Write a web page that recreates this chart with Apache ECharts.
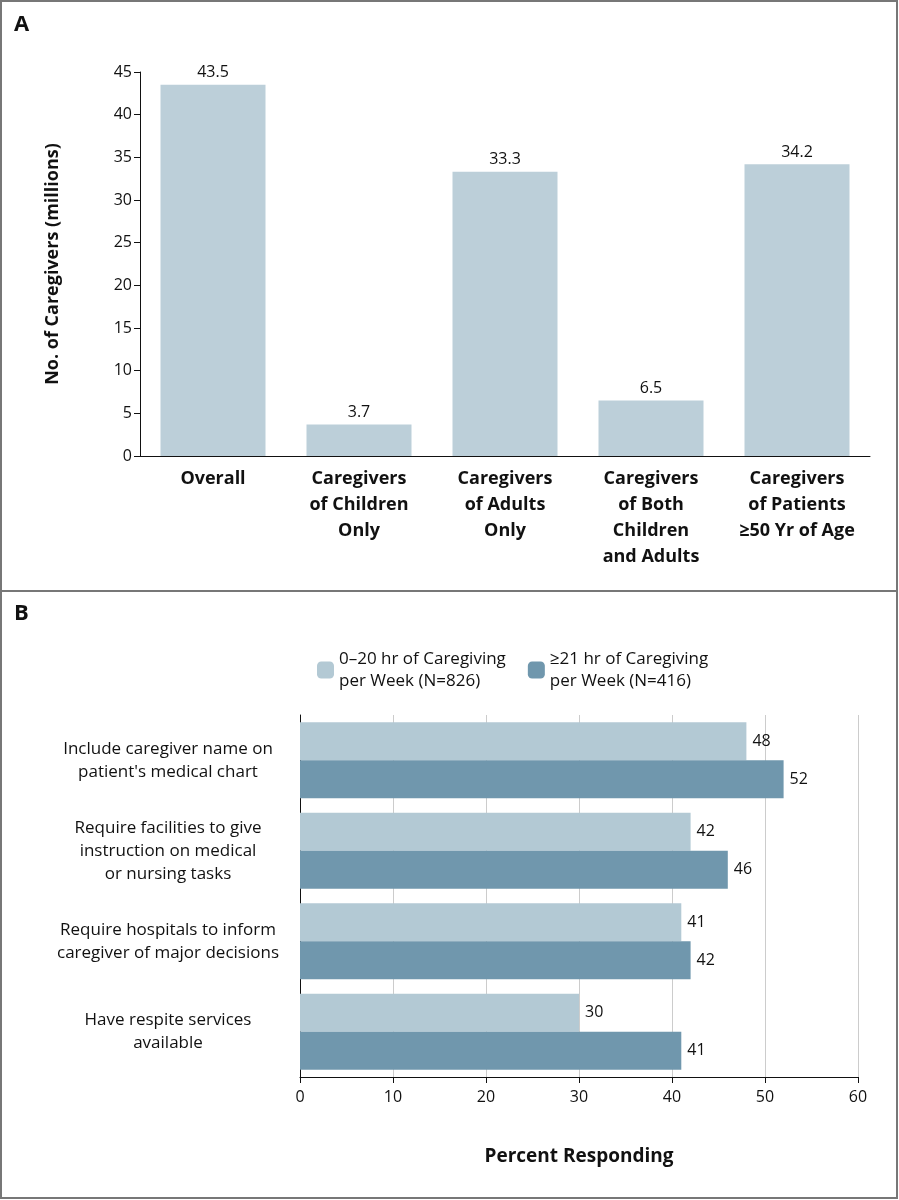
<!DOCTYPE html>
<html><head><meta charset="utf-8">
<script src="https://cdn.jsdelivr.net/npm/echarts@6/dist/echarts.min.js"></script>
<style>body{margin:0}#c{width:899px;height:1200px}</style></head>
<body><div id="c"></div>
<script>
var catsA = ['Overall', 'Caregivers\nof Children\nOnly', 'Caregivers\nof Adults\nOnly', 'Caregivers\nof Both\nChildren\nand Adults', 'Caregivers\nof Patients\n≥50 Yr of Age'];
var valsA = [43.5, 3.7, 33.3, 6.5, 34.2];
var catsB = ['Include caregiver name on\npatient\'s medical chart', 'Require facilities to give\ninstruction on medical\nor nursing tasks', 'Require hospitals to inform\ncaregiver of major decisions', 'Have respite services\navailable'];
var lowB = [48, 42, 41, 30];
var highB = [52, 46, 42, 41];
var seriesNames = ['0–20 hr of Caregiving\nper Week (N=826)', '≥21 hr of Caregiving\nper Week (N=416)'];

var font = 'Open Sans';
var chart = echarts.init(document.getElementById('c'));
var lbl = { show: true, color: '#111', fontSize: 16, fontFamily: font };
chart.setOption({
  animation: false,
  textStyle: { fontFamily: font, color: '#111' },
  graphic: [
    { type: 'rect', shape: { x: 1, y: 1, width: 896, height: 1197 }, style: { fill: 'none', stroke: '#777', lineWidth: 2 } },
    { type: 'line', shape: { x1: 1, y1: 591, x2: 897, y2: 591 }, style: { stroke: '#777', lineWidth: 2 } },
    { type: 'text', left: 14, top: 14, style: { text: 'A', font: 'bold 22px "Open Sans"', fill: '#111' } },
    { type: 'text', left: 14, top: 603, style: { text: 'B', font: 'bold 22px "Open Sans"', fill: '#111' } }
  ],
  legend: {
    left: 312, top: 643, itemWidth: 17, itemHeight: 17, itemGap: 22,
    textStyle: { fontSize: 17, fontFamily: font, color: '#111', lineHeight: 22 },
    data: seriesNames
  },
  grid: [
    { left: 140, right: 29, top: 72, bottom: 744 },
    { left: 300, right: 41, top: 715, bottom: 123 }
  ],
  xAxis: [
    { gridIndex: 0, type: 'category', data: catsA,
      axisLine: { lineStyle: { color: '#111' } }, axisTick: { show: false },
      axisLabel: { fontSize: 18, fontWeight: 'bold', color: '#111', lineHeight: 26, margin: 10, interval: 0 } },
    { gridIndex: 1, type: 'value', min: 0, max: 60, interval: 10,
      name: 'Percent Responding', nameLocation: 'middle', nameGap: 70,
      nameTextStyle: { fontSize: 19, fontWeight: 'bold', color: '#111' },
      axisLine: { show: true, lineStyle: { color: '#111' } }, axisTick: { show: true, length: 6, lineStyle: { color: '#111' } },
      axisLabel: { fontSize: 16, color: '#111', margin: 12 },
      splitLine: { show: true, lineStyle: { color: '#ccc' } } }
  ],
  yAxis: [
    { gridIndex: 0, type: 'value', min: 0, max: 45, interval: 5,
      name: 'No. of Caregivers (millions)', nameLocation: 'middle', nameGap: 78,
      nameTextStyle: { fontSize: 18, fontWeight: 'bold', color: '#111' },
      axisLine: { show: true, lineStyle: { color: '#111' } }, axisTick: { show: true, length: 6, lineStyle: { color: '#111' } },
      axisLabel: { fontSize: 16, color: '#111' }, splitLine: { show: false } },
    { gridIndex: 1, type: 'category', data: catsB, inverse: true,
      axisLine: { lineStyle: { color: '#111' } }, axisTick: { show: false },
      axisLabel: { fontSize: 17, color: '#111', lineHeight: 23, align: 'center', margin: 132, interval: 0 } }
  ],
  series: [
    { type: 'bar', xAxisIndex: 0, yAxisIndex: 0, data: valsA, barWidth: 105,
      itemStyle: { color: '#bccfd9' }, label: Object.assign({ position: 'top', distance: 4 }, lbl) },
    { name: seriesNames[0], type: 'bar', xAxisIndex: 1, yAxisIndex: 1, data: lowB,
      barGap: '0%', barCategoryGap: '16%',
      itemStyle: { color: '#b3c9d4' }, label: Object.assign({ position: 'right', distance: 6 }, lbl) },
    { name: seriesNames[1], type: 'bar', xAxisIndex: 1, yAxisIndex: 1, data: highB,
      barGap: '0%', barCategoryGap: '16%',
      itemStyle: { color: '#7097ad' }, label: Object.assign({ position: 'right', distance: 6 }, lbl) }
  ]
});
</script></body></html>
